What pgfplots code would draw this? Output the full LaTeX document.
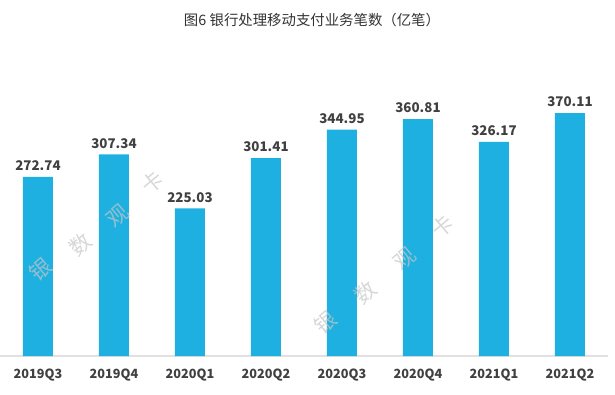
\documentclass[border=0pt]{standalone}
\usepackage{pgfplots}
\pgfplotsset{compat=1.18}
\usepackage{fontspec}
\setmainfont{Noto Sans CJK SC}
\definecolor{barc}{RGB}{30,176,224}
\definecolor{lab}{RGB}{64,64,64}
\definecolor{ttl}{RGB}{51,51,51}
\definecolor{axc}{RGB}{225,225,225}
\begin{document}
\begin{tikzpicture}[x=0.75pt,y=0.75pt]
\useasboundingbox (0pt,0pt) rectangle (461.25pt,295.5pt);
\begin{axis}[
  at={(0pt,28.5pt)}, anchor=south west,
  scale only axis, width=456pt, height=192pt,
  xmin=-0.5, xmax=7.5, ymin=0, ymax=390,
  axis x line=bottom, axis y line=none,
  axis line style={axc, line width=0.8pt, -},
  x axis line style={-},
  xtick=data, xtick style={draw=none},
  xticklabels={2019Q3,2019Q4,2020Q1,2020Q2,2020Q3,2020Q4,2021Q1,2021Q2},
  xticklabel style={font=\fontsize{9.5}{11}\selectfont\bfseries, text=lab, yshift=-4pt},
  ytick=\empty,
  clip=false,
  nodes near coords,
  point meta=explicit symbolic,
  nodes near coords style={font=\fontsize{10}{12}\selectfont\bfseries, text=lab, yshift=1pt},
]
\addplot[ybar, bar width=22.5pt, fill=barc, draw=none] coordinates {
(0,272.74) [272.74]
(1,307.34) [307.34]
(2,225.03) [225.03]
(3,301.41) [301.41]
(4,344.95) [344.95]
(5,360.81) [360.81]
(6,326.17) [326.17]
(7,370.11) [370.11]
};
\end{axis}
\node[text=ttl, font=\fontsize{10.8}{12}\selectfont] at (312,374) {图6 银行处理移动支付业务笔数（亿笔）};
\begin{scope}[every node/.style={text=gray!45, opacity=0.7, rotate=40, font=\fontsize{16}{17}\selectfont}]
\node at (40,125) {银};
\node at (80,150) {数};
\node at (118,178) {观};
\node at (152,212) {卡};
\node at (325,72) {银};
\node at (365,102) {数};
\node at (405,135) {观};
\node at (442,168) {卡};
\end{scope}
\end{tikzpicture}
\end{document}
